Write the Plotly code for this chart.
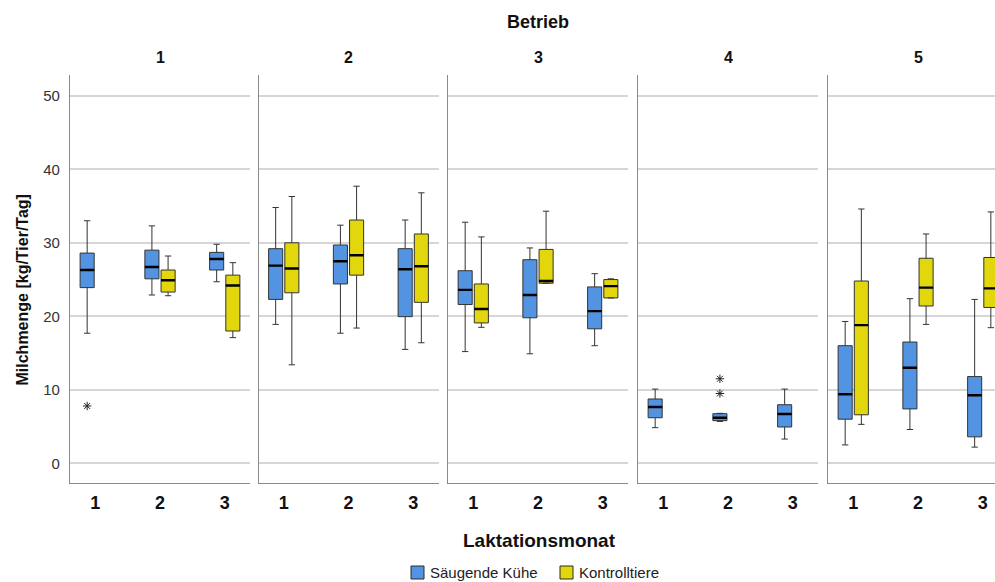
import plotly.graph_objects as go

# ---------------- data ----------------
MONTHS = [1, 2, 3]
BETRIEBE = ["1", "2", "3", "4", "5"]
SERIES = ["Säugende Kühe", "Kontrolltiere"]

# Säugende Kühe: one list per Betrieb, one value per Laktationsmonat
S_LOW = [[17.7, 22.9, 24.7], [18.9, 17.7, 15.5], [15.2, 14.9, 16.0], [4.85, 5.7, 3.3], [2.5, 4.6, 2.2]]
S_Q1 = [[23.9, 25.1, 26.3], [22.3, 24.4, 19.95], [21.6, 19.8, 18.3], [6.2, 5.8, 4.94], [6.0, 7.4, 3.6]]
S_MED = [[26.3, 26.7, 27.8], [26.9, 27.5, 26.4], [23.6, 22.9, 20.7], [7.66, 6.2, 6.7], [9.4, 13.0, 9.25]]
S_Q3 = [[28.6, 29.0, 28.7], [29.2, 29.7, 29.2], [26.2, 27.7, 24.0], [8.75, 6.75, 7.97], [16.0, 16.5, 11.8]]
S_HIGH = [[33.0, 32.3, 29.8], [34.8, 32.4, 33.1], [32.8, 29.3, 25.8], [10.1, 6.8, 10.1], [19.3, 22.4, 22.3]]

# Kontrolltiere
K_LOW = [[None, 22.8, 17.1], [13.4, 18.4, 16.4], [18.5, 24.5, 22.5], [None, None, None], [5.3, 18.9, 18.45]]
K_Q1 = [[None, 23.3, 18.0], [23.2, 25.6, 21.9], [19.1, 24.5, 22.5], [None, None, None], [6.6, 21.4, 21.2]]
K_MED = [[None, 24.9, 24.2], [26.5, 28.3, 26.8], [21.0, 24.8, 24.1], [None, None, None], [18.8, 23.9, 23.8]]
K_Q3 = [[None, 26.3, 25.6], [30.0, 33.1, 31.2], [24.4, 29.1, 25.0], [None, None, None], [24.8, 27.9, 28.0]]
K_HIGH = [[None, 28.2, 27.3], [36.3, 37.7, 36.8], [30.8, 34.3, 25.1], [None, None, None], [34.6, 31.2, 34.2]]

# Extreme values (*) of Säugende Kühe
S_OUT_MONTH = [[1], [], [], [2, 2], []]
S_OUT_VAL = [[7.8], [], [], [9.5, 11.5], []]

Y_TICKS = [0, 10, 20, 30, 40, 50]

# ---------------- style ----------------
FONT = "Liberation Sans, Arial, sans-serif"
BLUE = "#5394E2"
YELLOW = "#E2D60D"
COLORS = [BLUE, YELLOW]
W, H = 995, 582
PANEL_LEFT = [70, 258.5, 448, 638, 828]
PANEL_W = 180
PLOT_TOP, PLOT_BOTTOM = 75, 483.3
XRANGE = [0.61, 3.39]
LEGEND_SWATCH_X = [411, 560]   # pixel x of legend swatches
LEGEND_Y = 572.5               # pixel y of legend centre line
SWATCH = 13

fig = go.Figure()


def ax_suffix(i):
    return "" if i == 0 else str(i + 1)


def add_series(i, sname, color, low, q1, med, q3, high):
    idx = [j for j, v in enumerate(med[i]) if v is not None]
    if not idx:
        return
    xs = [MONTHS[j] for j in idx]
    pick = lambda arr: [arr[i][j] for j in idx]
    common = dict(xaxis="x" + ax_suffix(i), yaxis="y" + ax_suffix(i),
                  offsetgroup=sname, alignmentgroup="g", hoverinfo="skip",
                  showlegend=False)
    fig.add_trace(go.Box(
        x=xs, q1=pick(q1), median=pick(med), q3=pick(q3),
        lowerfence=pick(low), upperfence=pick(high),
        name=sname, fillcolor=color, line=dict(color="#333333", width=1),
        whiskerwidth=0.45, boxpoints=False, **common))
    # thicker median line
    fig.add_trace(go.Box(
        x=xs, q1=pick(med), median=pick(med), q3=pick(med),
        lowerfence=pick(med), upperfence=pick(med),
        name=sname, fillcolor="rgba(0,0,0,0)", line=dict(color="#000000", width=2.4),
        whiskerwidth=0, boxpoints=False, **common))


for i in range(len(BETRIEBE)):
    add_series(i, SERIES[0], BLUE, S_LOW, S_Q1, S_MED, S_Q3, S_HIGH)
    add_series(i, SERIES[1], YELLOW, K_LOW, K_Q1, K_MED, K_Q3, K_HIGH)
    if S_OUT_VAL[i]:
        fig.add_trace(go.Box(
            x=S_OUT_MONTH[i], y=S_OUT_VAL[i], name=SERIES[0],
            xaxis="x" + ax_suffix(i), yaxis="y" + ax_suffix(i),
            offsetgroup=SERIES[0], alignmentgroup="g", hoverinfo="skip",
            boxpoints="all", jitter=0, pointpos=0,
            fillcolor="rgba(0,0,0,0)", line=dict(width=0, color="rgba(0,0,0,0)"),
            marker=dict(symbol="asterisk-open", size=7, color="#222222",
                        line=dict(width=1, color="#222222")),
            showlegend=False))

y_dom = [(H - PLOT_BOTTOM) / H, (H - PLOT_TOP) / H]
y_range = [(463.3 - PLOT_BOTTOM) / 7.35, (463.3 - PLOT_TOP) / 7.35]
layout_axes = {}
for i in range(len(BETRIEBE)):
    left = PANEL_LEFT[i]
    right = min(left + PANEL_W, W)
    xr = [XRANGE[0], XRANGE[0] + (XRANGE[1] - XRANGE[0]) * (right - left) / PANEL_W]
    xa = dict(domain=[left / W, right / W], range=xr, anchor="y" + ax_suffix(i),
              tickvals=MONTHS, ticktext=["<b>%d</b>" % m for m in MONTHS],
              tickfont=dict(size=18, color="#111111", family=FONT),
              showgrid=False, zeroline=False, showline=True, linecolor="#8a8a8a",
              linewidth=1.2, ticks="", ticklabelstandoff=3)
    if 0 < i < 4:
        xa["matches"] = "x"
    ya = dict(domain=y_dom, range=y_range, anchor="x" + ax_suffix(i),
              tickvals=Y_TICKS, showticklabels=(i == 0),
              tickfont=dict(size=15, color="#333333", family=FONT),
              showgrid=True, gridcolor="#d6d6d6", gridwidth=1.6, zeroline=False,
              showline=True, linecolor="#8a8a8a", linewidth=1.2, ticks="",
              ticklabelstandoff=6)
    if i > 0:
        ya["matches"] = "y"
    layout_axes["xaxis" + ax_suffix(i)] = xa
    layout_axes["yaxis" + ax_suffix(i)] = ya

annotations = [
    dict(text="<b>Betrieb</b>", x=538 / W, y=(H - 22.5) / H, font=dict(size=18)),
    dict(text="<b>Laktationsmonat</b>", x=539 / W, y=(H - 540.5) / H, font=dict(size=19)),
    dict(text="<b>Milchmenge [kg/Tier/Tag]</b>", x=21.5 / W, y=(H - 290) / H,
         textangle=-90, font=dict(size=16)),
]
for i, b in enumerate(BETRIEBE):
    annotations.append(dict(text="<b>%s</b>" % b, x=(PANEL_LEFT[i] + PANEL_W / 2) / W,
                            y=(H - 58) / H, font=dict(size=16)))
for a in annotations:
    a.update(xref="paper", yref="paper", xanchor="center", yanchor="middle",
             showarrow=False)
    a["font"].update(family=FONT, color="#111111")

# legend drawn as swatches + labels
shapes = []
for sx, name, col in zip(LEGEND_SWATCH_X, SERIES, COLORS):
    shapes.append(dict(type="rect", xref="paper", yref="paper",
                       x0=sx / W, x1=(sx + SWATCH) / W,
                       y0=(H - LEGEND_Y - SWATCH / 2) / H, y1=(H - LEGEND_Y + SWATCH / 2) / H,
                       fillcolor=col, line=dict(color="#2b2b2b", width=1)))
    annotations.append(dict(text=name, xref="paper", yref="paper",
                            x=(sx + SWATCH + 4) / W, y=(H - LEGEND_Y) / H,
                            xanchor="left", yanchor="middle", showarrow=False,
                            font=dict(size=15, family=FONT, color="#222222")))

fig.update_layout(
    width=W, height=H, margin=dict(l=0, r=0, t=0, b=0),
    paper_bgcolor="white", plot_bgcolor="white",
    font=dict(family=FONT, color="#222222"),
    boxmode="group", boxgap=0.5, boxgroupgap=0.13,
    annotations=annotations, shapes=shapes, showlegend=False,
    **layout_axes,
)

fig.write_html("out.html")
